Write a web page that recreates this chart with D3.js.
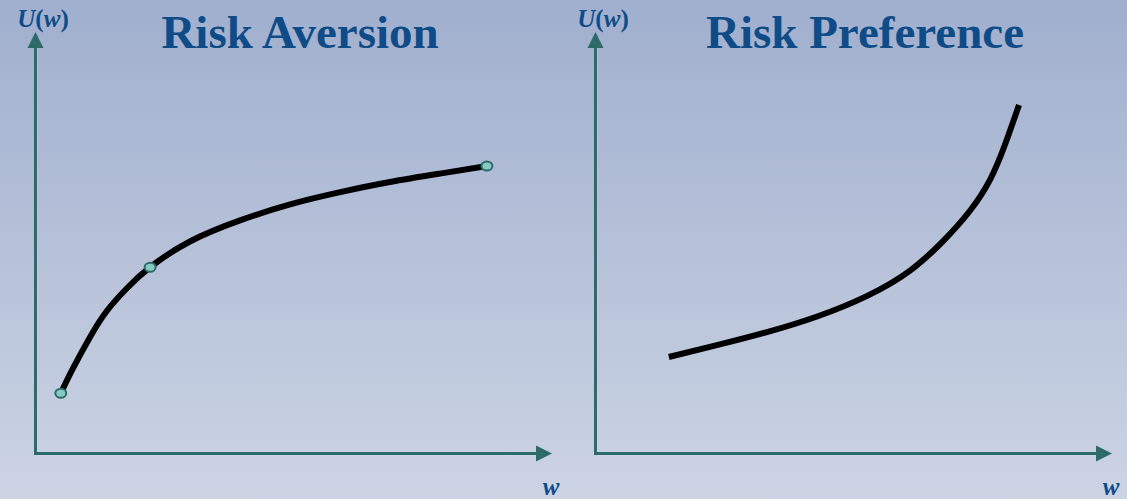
<!DOCTYPE html>
<html>
<head>
<meta charset="utf-8">
<script src="https://cdn.jsdelivr.net/npm/d3@7"></script>
<style>
  html, body { margin: 0; padding: 0; }
  svg { display: block; }
</style>
</head>
<body>
<script>
// Utility curves: wealth (w) against utility U(w), both on a 0–100 scale
const titles = ["Risk Aversion", "Risk Preference"];
const axisLabelX = "w";

// Concave utility (risk aversion)
const aversionW = [4.9, 7.3, 10.6, 13.8, 17.7, 22.2, 29.9, 39.6, 49.3, 59.0, 68.6, 78.3, 87.4];
const aversionU = [14.3, 20.3, 27.7, 33.8, 39.2, 44.2, 50.3, 55.3, 59.1, 62.0, 64.4, 66.4, 68.2];
// Highlighted points on the concave curve
const aversionMarkW = [4.9, 22.2, 87.4];
const aversionMarkU = [14.3, 44.2, 68.2];

// Convex utility (risk preference)
const preferenceW = [14.2, 23.5, 33.2, 42.9, 52.6, 60.9, 67.3, 72.5, 76.4, 79.2, 82.0];
const preferenceU = [22.9, 25.7, 28.8, 32.5, 37.4, 43.4, 50.4, 57.6, 65.0, 73.0, 82.7];

const W = 1127, H = 499;
const axisColor = "#2d6b69";
const titleColor = "#0f4c87";
const serif = "'Liberation Serif', 'Times New Roman', serif";

const svg = d3.select("body").append("svg")
  .attr("width", W).attr("height", H);

const defs = svg.append("defs");
const grad = defs.append("linearGradient")
  .attr("id", "bg").attr("x1", 0).attr("y1", 0).attr("x2", 0).attr("y2", 1);
grad.append("stop").attr("offset", "0%").attr("stop-color", "#a0afce");
grad.append("stop").attr("offset", "100%").attr("stop-color", "#ccd4e4");
svg.append("rect").attr("width", W).attr("height", H).attr("fill", "url(#bg)");

const panels = [
  { x0: 35.5, x1: 552, title: titles[0], titleX: 300,
    w: aversionW, u: aversionU, markW: aversionMarkW, markU: aversionMarkU },
  { x0: 595.5, x1: 1112, title: titles[1], titleX: 865,
    w: preferenceW, u: preferenceU, markW: [], markU: [] }
];

const yBase = 453.5, yTop = 32;

panels.forEach(p => {
  const x = d3.scaleLinear().domain([0, 100]).range([p.x0, p.x1]);
  const y = d3.scaleLinear().domain([0, 100]).range([yBase, yTop]);
  const g = svg.append("g");

  // faint highlight alongside the axes
  g.append("path")
    .attr("d", `M${x(0) + 1.5},${y(100) + 16} V${y(0) + 1.5} H${x(100) - 15}`)
    .attr("fill", "none").attr("stroke", "#d6dde9").attr("stroke-width", 1).attr("opacity", 0.6);

  // axis lines
  g.append("line")
    .attr("x1", x(0)).attr("y1", y(0) + 1.5).attr("x2", x(0)).attr("y2", y(100) + 14)
    .attr("stroke", axisColor).attr("stroke-width", 3);
  g.append("line")
    .attr("x1", x(0) - 1.5).attr("y1", y(0)).attr("x2", x(100) - 14).attr("y2", y(0))
    .attr("stroke", axisColor).attr("stroke-width", 3);

  // arrow heads
  const tipY = y(100), tipX = x(100);
  g.append("path")
    .attr("d", `M${x(0)},${tipY} L${x(0) + 8},${tipY + 16} L${x(0) - 8},${tipY + 16} Z`)
    .attr("fill", axisColor);
  g.append("path")
    .attr("d", `M${tipX},${y(0)} L${tipX - 16},${y(0) - 8} L${tipX - 16},${y(0) + 8} Z`)
    .attr("fill", axisColor);

  // axis labels
  const lab = g.append("text")
    .attr("x", x(0) + 7.5).attr("y", 27)
    .attr("text-anchor", "middle")
    .attr("font-family", serif)
    .attr("font-weight", "bold").attr("font-style", "italic")
    .attr("font-size", 25).attr("fill", titleColor);
  lab.append("tspan").text("U");
  lab.append("tspan").attr("font-style", "normal").text("(");
  lab.append("tspan").text("w");
  lab.append("tspan").attr("font-style", "normal").text(")");

  g.append("text")
    .attr("x", tipX - 1).attr("y", 495)
    .attr("text-anchor", "middle")
    .attr("font-family", serif)
    .attr("font-weight", "bold").attr("font-style", "italic")
    .attr("font-size", 25).attr("fill", titleColor)
    .text(axisLabelX);

  // title
  g.append("text")
    .attr("x", p.titleX).attr("y", 48)
    .attr("text-anchor", "middle")
    .attr("font-family", serif)
    .attr("font-weight", "bold")
    .attr("font-size", 47).attr("fill", titleColor)
    .text(p.title);

  // utility curve
  const pts = p.w.map((d, i) => [d, p.u[i]]);
  const line = d3.line()
    .x(d => x(d[0])).y(d => y(d[1]))
    .curve(d3.curveNatural);
  g.append("path")
    .attr("d", line(pts))
    .attr("fill", "none").attr("stroke", "#000")
    .attr("stroke-width", 6).attr("stroke-linecap", "butt");

  // marked points
  g.selectAll("ellipse.mark")
    .data(p.markW.map((d, i) => [d, p.markU[i]]))
    .join("ellipse")
    .attr("class", "mark")
    .attr("cx", d => x(d[0])).attr("cy", d => y(d[1]))
    .attr("rx", 5.5).attr("ry", 4.5)
    .attr("fill", "#86cbc3").attr("stroke", axisColor).attr("stroke-width", 2);
});
</script>
</body>
</html>
